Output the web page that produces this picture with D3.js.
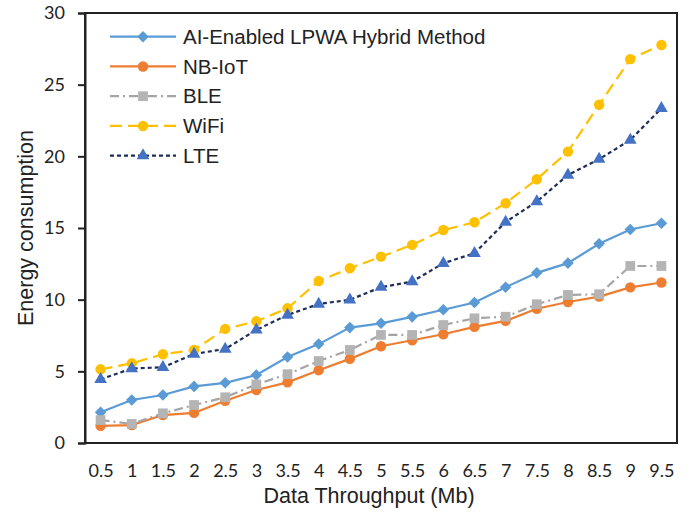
<!DOCTYPE html>
<html><head><meta charset="utf-8">
<script src="https://cdn.jsdelivr.net/npm/d3@7"></script>
<style>body{margin:0;background:#fff}svg{display:block}</style>
</head><body><svg id="c" width="691" height="512"></svg>
<script>
const categories = ["0.5","1","1.5","2","2.5","3","3.5","4","4.5","5","5.5","6","6.5","7","7.5","8","8.5","9","9.5"];
const aiHybrid = [2.15,3.0,3.35,3.95,4.2,4.75,6.0,6.9,8.05,8.35,8.8,9.3,9.8,10.87,11.87,12.55,13.9,14.9,15.33];
const nbIot   = [1.2,1.25,1.95,2.1,2.95,3.7,4.23,5.08,5.87,6.75,7.17,7.59,8.1,8.52,9.37,9.84,10.21,10.86,11.2];
const ble     = [1.6,1.33,2.07,2.65,3.19,4.09,4.8,5.72,6.49,7.54,7.54,8.23,8.7,8.81,9.68,10.33,10.38,12.35,12.35];
const wifi    = [5.14,5.56,6.19,6.49,7.96,8.49,9.4,11.3,12.19,13.0,13.82,14.86,15.4,16.73,18.4,20.33,23.6,26.78,27.77];
const lte     = [4.44,5.2,5.28,6.21,6.56,7.89,8.93,9.7,9.99,10.87,11.26,12.54,13.24,15.42,16.84,18.7,19.8,21.14,23.35];
const yTicks  = [0,5,10,15,20,25,30];
const seriesNames = ["AI-Enabled LPWA Hybrid Method","NB-IoT","BLE","WiFi","LTE"];

const series = [
  {name:seriesNames[0], values:aiHybrid, line:"#5B9BD5", fill:"#5B9BD5", dash:null, sym:d3.symbolDiamond2, size:85, w:2.2},
  {name:seriesNames[1], values:nbIot, line:"#ED7D31", fill:"#ED7D31", dash:null, sym:d3.symbolCircle, size:85, w:2.2},
  {name:seriesNames[2], values:ble, line:"#A5A5A5", fill:"#B4B4B4", dash:"9,4,2,4", sym:d3.symbolSquare, size:95, w:2.2},
  {name:seriesNames[3], values:wifi, line:"#FFC000", fill:"#FFC000", dash:"12,6", sym:d3.symbolCircle, size:85, w:2.2},
  {name:seriesNames[4], values:lte, line:"#1F2D5C", fill:"#4472C4", dash:"4,3", sym:d3.symbolTriangle, size:70, w:2.2}
];

const svg = d3.select("#c");
const m = {l:85, r:677, t:13, b:443};
const x = d3.scalePoint().domain(categories).range([m.l, m.r]).padding(0.5);
const y = d3.scaleLinear().domain([0,30]).range([m.b, m.t]);

svg.append("rect").attr("x",m.l).attr("y",m.t).attr("width",m.r-m.l).attr("height",m.b-m.t)
  .attr("fill","none").attr("stroke","#222").attr("stroke-width",2);

const ya = svg.append("g").attr("transform",`translate(${m.l},0)`)
  .call(d3.axisLeft(y).tickValues(yTicks).tickSize(7).tickPadding(13));
ya.select(".domain").attr("stroke","#222").attr("stroke-width",2);
ya.selectAll(".tick line").attr("stroke","#222").attr("stroke-width",2);
ya.selectAll(".tick text").attr("font-family","Lato, sans-serif").attr("font-size",18).attr("fill","#222");

const xa = svg.append("g").attr("transform",`translate(0,${m.b})`)
  .call(d3.axisBottom(x).tickSize(0).tickPadding(21));
xa.select(".domain").remove();
xa.selectAll(".tick text").attr("font-family","Lato, sans-serif").attr("font-size",18).attr("fill","#222");

svg.append("text").attr("x",369).attr("y",503).attr("text-anchor","middle")
  .attr("font-family","Liberation Sans, Arial, sans-serif").attr("font-size",21.5).attr("fill","#222")
  .text("Data Throughput (Mb)");
svg.append("text").attr("transform",`translate(33,${(m.t+m.b)/2}) rotate(-90)`).attr("text-anchor","middle")
  .attr("font-family","Liberation Sans, Arial, sans-serif").attr("font-size",21.5).attr("fill","#222")
  .text("Energy consumption");

const line = d3.line().x((d,i)=>x(categories[i])).y(d=>y(d));
series.forEach(s=>{
  svg.append("path").datum(s.values).attr("d",line).attr("fill","none")
    .attr("stroke",s.line).attr("stroke-width",s.w).attr("stroke-dasharray",s.dash);
});
series.forEach(s=>{
  svg.append("g").selectAll("path").data(s.values).join("path")
    .attr("transform",(d,i)=>`translate(${x(categories[i])},${y(d)})`)
    .attr("d",d3.symbol().type(s.sym).size(s.size)).attr("fill",s.fill);
});

const lg = svg.append("g");
series.forEach((s,i)=>{
  const yy = 36.7 + i*29.75;
  lg.append("line").attr("x1",110).attr("x2",176).attr("y1",yy).attr("y2",yy)
    .attr("stroke",s.line).attr("stroke-width",s.w).attr("stroke-dasharray",s.dash);
  lg.append("path").attr("transform",`translate(143,${yy})`).attr("d",d3.symbol().type(s.sym).size(s.size)).attr("fill",s.fill);
  lg.append("text").attr("x",183).attr("y",yy).attr("dy","0.35em")
    .attr("font-family","Liberation Sans, Arial, sans-serif").attr("font-size",20.5).attr("fill","#222").text(s.name);
});
</script></body></html>
